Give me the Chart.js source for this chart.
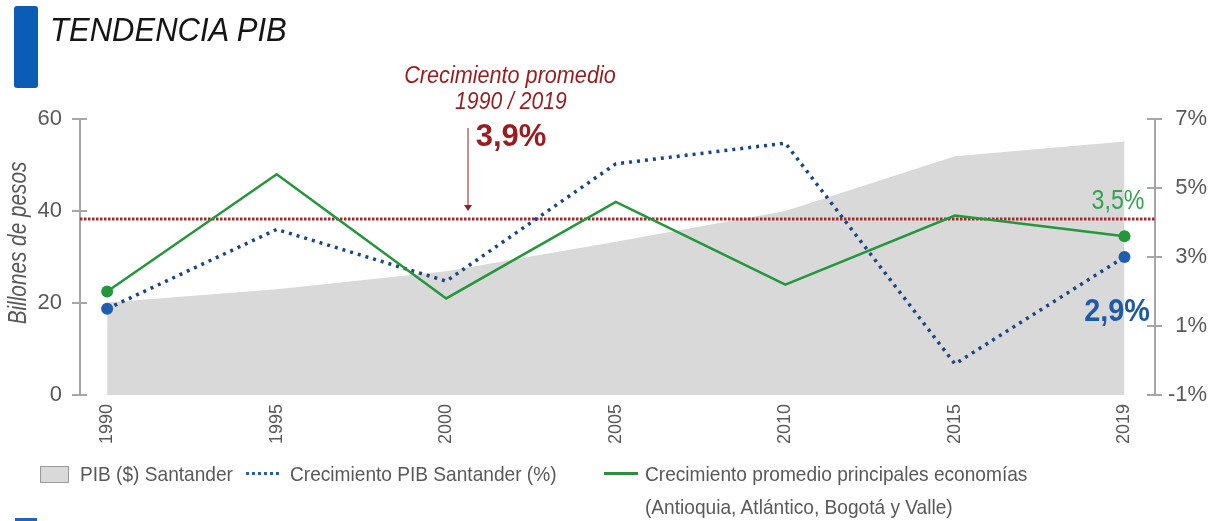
<!DOCTYPE html>
<html lang="es">
<head>
<meta charset="utf-8">
<title>Tendencia PIB</title>
<script src="https://cdn.jsdelivr.net/npm/chart.js@4.4.1/dist/chart.umd.min.js"></script>
<style>
  html, body { margin: 0; padding: 0; background: #fff; }
  #wrap {
    position: relative; width: 1216px; height: 521px; overflow: hidden;
    font-family: 'Liberation Sans Narrow', 'Liberation Sans', Arial, sans-serif;
    color: #595959;
  }
  #grafico { position: absolute; left: 0; top: 0; }
  .txt { position: absolute; white-space: nowrap; }
  .izq { transform-origin: left center; }
  #barra { position: absolute; left: 14px; top: 6px; width: 24px; height: 82px; background: #0b5cb5; border-radius: 3px; }
  #titulo { left: 50px; top: 13px; font-size: 33px; line-height: 34px; font-style: italic; color: #151515; transform: scaleX(0.94); }
  #ytitulo { left: 17px; top: 243px; font-size: 25px; line-height: 26px; font-style: italic;
             transform: translate(-50%, -50%) rotate(-90deg) scaleX(0.83); }
  .rojo { color: #9b1b1e; }
  .leyenda { font-size: 21px; line-height: 22px; transform: scaleX(0.91); }
  #cajaPib { position: absolute; left: 40px; top: 466px; width: 27px; height: 15px; background: #d9d9d9; border: 1px solid #9a9a9a; }
  #lineaAzul { position: absolute; left: 246px; top: 472px; width: 34px; height: 3px;
               background: repeating-linear-gradient(90deg, #2a5ea8 0 3px, transparent 3px 6px); }
  #lineaVerde { position: absolute; left: 604px; top: 472px; width: 34px; height: 3px; background: #2b8f3c; }
  #pie { position: absolute; left: 15px; top: 518px; width: 22px; height: 4px; background: #1f66b8; }
</style>
</head>
<body>
<div id="wrap">
  <canvas id="grafico" width="1216" height="521"></canvas>
  <div id="barra"></div>
  <div id="titulo" class="txt izq">TENDENCIA PIB</div>
  <div id="ytitulo" class="txt">Billones de pesos</div>

  <div class="txt rojo" style="left:510px; top:63px; font-size:23px; line-height:24px; font-style:italic; transform:translateX(-50%) scaleX(0.94);">Crecimiento promedio</div>
  <div class="txt rojo" style="left:511px; top:89px; font-size:23px; line-height:24px; font-style:italic; transform:translateX(-50%) scaleX(0.92);">1990 / 2019</div>
  <div class="txt rojo" style="left:511px; top:120px; font-size:31px; line-height:32px; font-weight:bold; transform:translateX(-50%);">3,9%</div>
  <div class="txt" style="left:1118px; top:186px; font-size:27px; line-height:28px; color:#34a24f; transform:translateX(-50%) scaleX(0.86);">3,5%</div>
  <div class="txt" style="left:1117px; top:294px; font-size:32px; line-height:32px; font-weight:bold; color:#1f5aa6; transform:translateX(-50%) scaleX(0.9);">2,9%</div>

  <div id="cajaPib"></div>
  <div class="txt izq leyenda" style="left:80px; top:463px;">PIB ($) Santander</div>
  <div id="lineaAzul"></div>
  <div class="txt izq leyenda" style="left:290px; top:463px;">Crecimiento PIB Santander (%)</div>
  <div id="lineaVerde"></div>
  <div class="txt izq leyenda" style="left:645px; top:463px;">Crecimiento promedio principales economías</div>
  <div class="txt izq leyenda" style="left:645px; top:496px;">(Antioquia, Atlántico, Bogotá y Valle)</div>
  <div id="pie"></div>
</div>

<script>
// datos
const anios = ["1990", "1995", "2000", "2005", "2010", "2015", "2019"];
const pibSantander = [20.1, 23.0, 26.9, 33.3, 40.0, 51.9, 55.1];      // billones de pesos
const crecSantander = [1.5, 3.8, 2.3, 5.7, 6.3, -0.1, 3.0];          // %
const crecPrincipales = [2.0, 5.4, 1.8, 4.6, 2.2, 4.2, 3.6];         // %
const promedio = 4.1;                                                  // linea 1990/2019
const ticksIzq = [0, 20, 40, 60];
const ticksDer = [-1, 1, 3, 5, 7];

// limites del eje x (los ejes quedan un poco por fuera del primer y ultimo año)
const xMin = -0.16;
const xMax = 6.18;

const fuente = "'Liberation Sans Narrow', 'Liberation Sans', Arial, sans-serif";
const gris = "#595959";

const puntos = arr => arr.map((v, i) => ({ x: i, y: v }));
const extremos = r => anios.map((_, i) => (i === 0 || i === anios.length - 1) ? r : 0);

// === marcas cruzadas en los ejes + flecha del promedio ===
const marcas = {
  id: "marcas",
  afterDraw(chart) {
    const ctx = chart.ctx;
    const izq = chart.scales.yIzq;
    const der = chart.scales.yDer;
    ctx.save();
    ctx.strokeStyle = "#a6a6a6";
    ctx.lineWidth = 2;
    ticksIzq.forEach(v => {
      const y = izq.getPixelForValue(v);
      ctx.beginPath(); ctx.moveTo(izq.right - 8, y); ctx.lineTo(izq.right + 7, y); ctx.stroke();
    });
    ticksDer.forEach(v => {
      const y = der.getPixelForValue(v);
      ctx.beginPath(); ctx.moveTo(der.left - 8, y); ctx.lineTo(der.left + 7, y); ctx.stroke();
    });

    const yProm = der.getPixelForValue(promedio);
    const xf = 468;
    ctx.strokeStyle = "#9b1b1e";
    ctx.fillStyle = "#9b1b1e";
    ctx.lineWidth = 1;
    ctx.beginPath(); ctx.moveTo(xf, 128); ctx.lineTo(xf, yProm - 12); ctx.stroke();
    ctx.beginPath();
    ctx.moveTo(xf - 4, yProm - 14); ctx.lineTo(xf + 4, yProm - 14); ctx.lineTo(xf, yProm - 8);
    ctx.closePath(); ctx.fill();
    ctx.restore();
  }
};

new Chart(document.getElementById("grafico"), {
  type: "line",
  data: {
    datasets: [
      {
        label: "Crecimiento promedio principales economías",
        data: puntos(crecPrincipales),
        yAxisID: "yDer",
        borderColor: "#24963b",
        borderWidth: 2.5,
        pointRadius: extremos(6),
        pointBackgroundColor: "#24963b",
        pointBorderWidth: 0,
        fill: false,
        order: 0
      },
      {
        label: "Crecimiento PIB Santander (%)",
        data: puntos(crecSantander),
        yAxisID: "yDer",
        borderColor: "#1b4489",
        borderWidth: 3.5,
        borderDash: [3, 5],
        pointRadius: extremos(6),
        pointBackgroundColor: "#1f5fad",
        pointBorderWidth: 0,
        fill: false,
        order: 1
      },
      {
        label: "Promedio 1990 / 2019",
        data: [{ x: xMin, y: promedio }, { x: xMax, y: promedio }],
        yAxisID: "yDer",
        borderColor: "#a3282b",
        borderWidth: 3,
        borderDash: [2.5, 1.5],
        pointRadius: 0,
        fill: false,
        order: 2
      },
      {
        label: "PIB ($) Santander",
        data: puntos(pibSantander),
        yAxisID: "yIzq",
        borderWidth: 0,
        borderColor: "rgba(0,0,0,0)",
        backgroundColor: "#d9d9d9",
        pointRadius: 0,
        fill: "origin",
        order: 3
      }
    ]
  },
  options: {
    responsive: false,
    animation: false,
    events: [],
    layout: { padding: { top: 119, left: 0, right: 9, bottom: 0 } },
    plugins: { legend: { display: false }, tooltip: { enabled: false } },
    elements: { line: { tension: 0 } },
    scales: {
      x: {
        type: "linear",
        min: xMin,
        max: xMax,
        afterBuildTicks: s => { s.ticks = anios.map((_, i) => ({ value: i })); },
        afterFit: s => { s.height = 126; },
        grid: { display: false, drawTicks: false },
        border: { display: false },
        ticks: {
          autoSkip: false,
          minRotation: 90,
          maxRotation: 90,
          padding: 9,
          color: gris,
          font: { family: fuente, size: 18 },
          callback: v => anios[v]
        }
      },
      yIzq: {
        position: "left",
        min: 0,
        max: 60,
        afterBuildTicks: s => { s.ticks = ticksIzq.map(v => ({ value: v })); },
        afterFit: s => { s.width = 80; },
        grid: { display: false, drawTicks: false },
        border: { display: true, color: "#a6a6a6", width: 2 },
        ticks: { padding: 18, color: gris, font: { family: fuente, size: 22 } }
      },
      yDer: {
        position: "right",
        min: -1,
        max: 7,
        afterBuildTicks: s => { s.ticks = ticksDer.map(v => ({ value: v })); },
        afterFit: s => { s.width = 52; },
        grid: { display: false, drawTicks: false },
        border: { display: true, color: "#a6a6a6", width: 2 },
        ticks: {
          padding: 13,
          crossAlign: "far",
          color: gris,
          font: { family: fuente, size: 22 },
          callback: v => v + "%"
        }
      }
    }
  },
  plugins: [marcas]
});
</script>
</body>
</html>
